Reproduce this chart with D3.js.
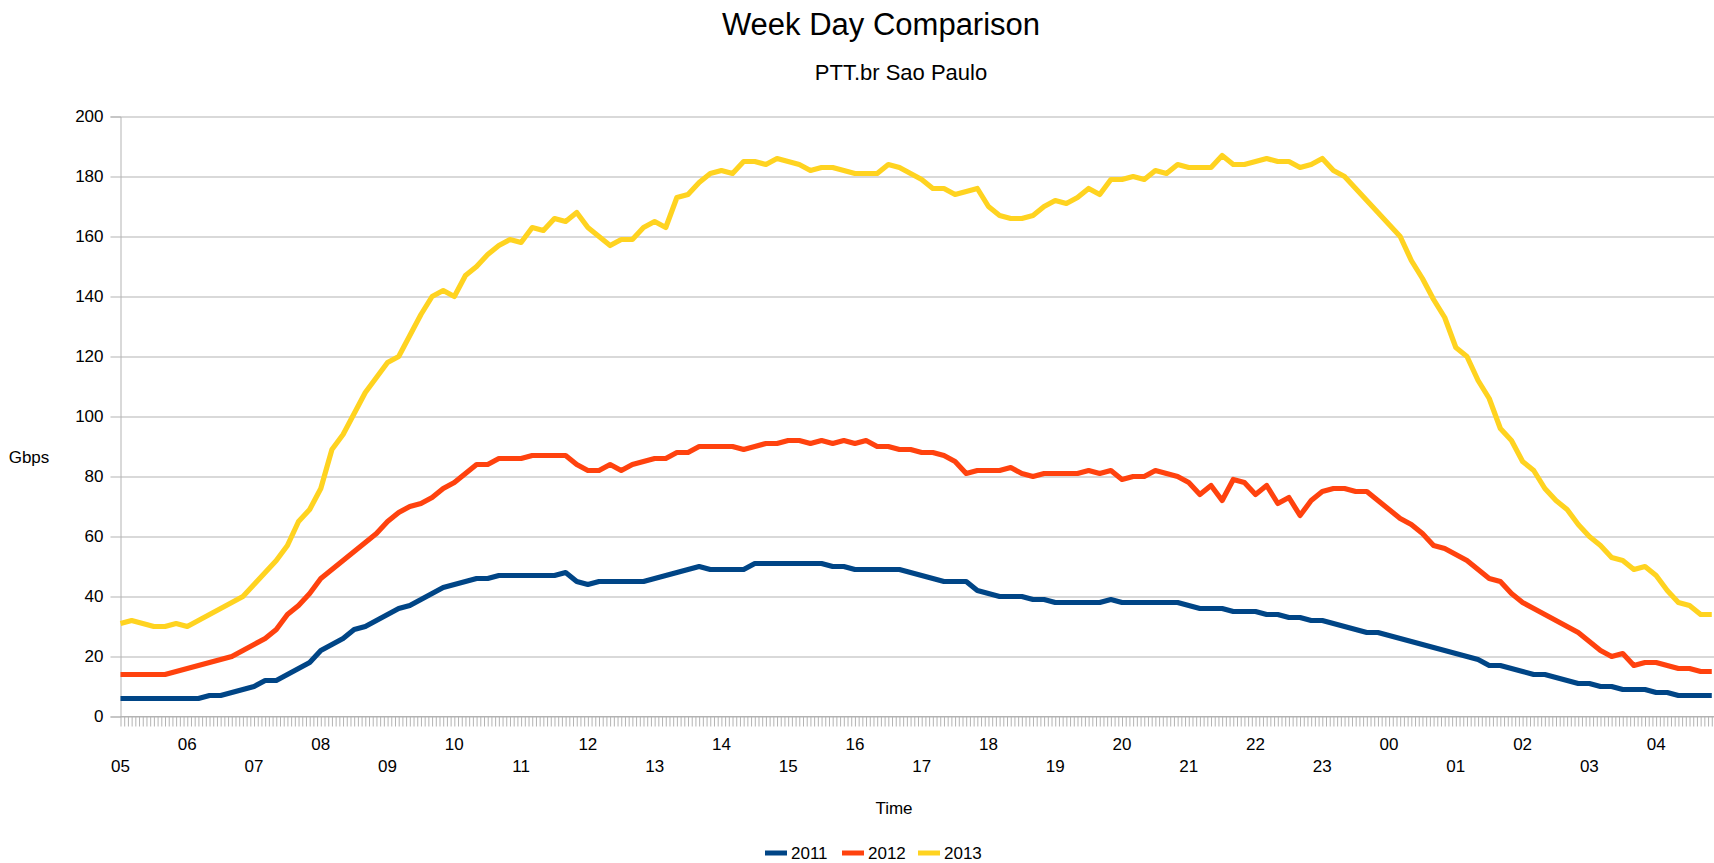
<!DOCTYPE html>
<html>
<head>
<meta charset="utf-8">
<script src="https://cdn.jsdelivr.net/npm/d3@7"></script>
<style>
  html, body { margin: 0; padding: 0; background: #fff; }
  svg { display: block; font-family: "Liberation Sans", Arial, sans-serif; }
</style>
</head>
<body>
<svg id="chart" width="1714" height="863"></svg>
<script>
const times = [];
for (let i = 0; i < 144; i++) {
  const m = (300 + i * 10) % 1440;
  times.push(String(Math.floor(m / 60)).padStart(2, "0") + ":" + String(m % 60).padStart(2, "0"));
}
const series2011 = [
  6, 6, 6, 6, 6, 6, 6, 6, 7, 7, 8, 9, 10, 12, 12, 14, 16, 18, 22, 24, 26, 29, 30, 32,
  34, 36, 37, 39, 41, 43, 44, 45, 46, 46, 47, 47, 47, 47, 47, 47, 48, 45, 44, 45, 45, 45, 45, 45,
  46, 47, 48, 49, 50, 49, 49, 49, 49, 51, 51, 51, 51, 51, 51, 51, 50, 50, 49, 49, 49, 49, 49, 48,
  47, 46, 45, 45, 45, 42, 41, 40, 40, 40, 39, 39, 38, 38, 38, 38, 38, 39, 38, 38, 38, 38, 38, 38,
  37, 36, 36, 36, 35, 35, 35, 34, 34, 33, 33, 32, 32, 31, 30, 29, 28, 28, 27, 26, 25, 24, 23, 22,
  21, 20, 19, 17, 17, 16, 15, 14, 14, 13, 12, 11, 11, 10, 10, 9, 9, 9, 8, 8, 7, 7, 7, 7
];
const series2012 = [
  14, 14, 14, 14, 14, 15, 16, 17, 18, 19, 20, 22, 24, 26, 29, 34, 37, 41, 46, 49, 52, 55, 58, 61,
  65, 68, 70, 71, 73, 76, 78, 81, 84, 84, 86, 86, 86, 87, 87, 87, 87, 84, 82, 82, 84, 82, 84, 85,
  86, 86, 88, 88, 90, 90, 90, 90, 89, 90, 91, 91, 92, 92, 91, 92, 91, 92, 91, 92, 90, 90, 89, 89,
  88, 88, 87, 85, 81, 82, 82, 82, 83, 81, 80, 81, 81, 81, 81, 82, 81, 82, 79, 80, 80, 82, 81, 80,
  78, 74, 77, 72, 79, 78, 74, 77, 71, 73, 67, 72, 75, 76, 76, 75, 75, 72, 69, 66, 64, 61, 57, 56,
  54, 52, 49, 46, 45, 41, 38, 36, 34, 32, 30, 28, 25, 22, 20, 21, 17, 18, 18, 17, 16, 16, 15, 15
];
const series2013 = [
  31, 32, 31, 30, 30, 31, 30, 32, 34, 36, 38, 40, 44, 48, 52, 57, 65, 69, 76, 89, 94, 101, 108, 113,
  118, 120, 127, 134, 140, 142, 140, 147, 150, 154, 157, 159, 158, 163, 162, 166, 165, 168, 163, 160, 157, 159, 159, 163,
  165, 163, 173, 174, 178, 181, 182, 181, 185, 185, 184, 186, 185, 184, 182, 183, 183, 182, 181, 181, 181, 184, 183, 181,
  179, 176, 176, 174, 175, 176, 170, 167, 166, 166, 167, 170, 172, 171, 173, 176, 174, 179, 179, 180, 179, 182, 181, 184,
  183, 183, 183, 187, 184, 184, 185, 186, 185, 185, 183, 184, 186, 182, 180, 176, 172, 168, 164, 160, 152, 146, 139, 133,
  123, 120, 112, 106, 96, 92, 85, 82, 76, 72, 69, 64, 60, 57, 53, 52, 49, 50, 47, 42, 38, 37, 34, 34
];
const seriesNames = ["2011", "2012", "2013"];
const seriesColors = ["#004586", "#ff420e", "#ffd320"];
const hourLabels = ["05","06","07","08","09","10","11","12","13","14","15","16",
                    "17","18","19","20","21","22","23","00","01","02","03","04"];
const yTicks = [0, 20, 40, 60, 80, 100, 120, 140, 160, 180, 200];
const titleText = "Week Day Comparison";
const subtitleText = "PTT.br Sao Paulo";
const yTitle = "Gbps";
const xTitle = "Time";

(function draw() {
  const svg = d3.select("#chart");
  const pL = 120.5, pR = 1714, pT = 116.5, pB = 716.5;
  const toMin = s => { const [h, m] = s.split(":").map(Number); return ((h * 60 + m) - 300 + 1440) % 1440; };
  const x = d3.scaleLinear().domain([0, 1432]).range([pL, pR]);
  const y = d3.scaleLinear().domain([0, 200]).range([pB, pT]);
  const gridColor = "#b3b3b3";

  // gridlines + y ticks
  const yAxis = d3.axisLeft(y).tickValues(yTicks).tickSize(10).tickPadding(7).tickFormat(d3.format("d"));
  const gy = svg.append("g").attr("transform", `translate(${pL},0)`).call(yAxis);
  gy.select(".domain").attr("stroke", gridColor);
  gy.selectAll(".tick line").attr("stroke", gridColor);
  gy.selectAll(".tick text").attr("font-size", 17).attr("fill", "#000")
    .attr("font-family", "Liberation Sans, Arial, sans-serif");
  gy.selectAll(".tick").append("line")
    .attr("x1", 0).attr("x2", pR - pL).attr("stroke", gridColor).attr("stroke-width", 1);

  // x axis: a tick at every category (200 s), hour labels staggered
  const minorTicks = d3.range(0, 1432.1, 10 / 3);
  const xAxis = d3.axisBottom(x).tickValues(minorTicks).tickSize(10).tickFormat("");
  const gx = svg.append("g").attr("transform", `translate(0,${pB})`).call(xAxis);
  gx.select(".domain").attr("stroke", gridColor).attr("d", `M${pL},0H${pR}`);
  gx.selectAll(".tick line").attr("stroke", gridColor);

  svg.append("g").selectAll("text").data(hourLabels).join("text")
    .attr("x", (d, i) => x(i * 60))
    .attr("y", (d, i) => i % 2 === 0 ? 772 : 750)
    .attr("text-anchor", "middle")
    .attr("font-size", 17)
    .text(d => d);

  // lines
  const seriesData = [series2011, series2012, series2013];
  const line = d3.line().x(d => x(d.t)).y(d => y(d.v)).curve(d3.curveLinear);
  const plot = svg.append("g");
  seriesData.forEach((vals, k) => {
    const pts = vals.map((v, i) => ({ t: toMin(times[i]), v }));
    plot.append("path").datum(pts)
      .attr("d", line)
      .attr("fill", "none")
      .attr("stroke", seriesColors[k])
      .attr("stroke-width", 5.2)
      .attr("stroke-linejoin", "round");
  });

  // titles
  svg.append("text").attr("x", 881).attr("y", 35).attr("text-anchor", "middle")
    .attr("font-size", 31).text(titleText);
  svg.append("text").attr("x", 901).attr("y", 80).attr("text-anchor", "middle")
    .attr("font-size", 22).text(subtitleText);
  svg.append("text").attr("x", 29).attr("y", 463).attr("text-anchor", "middle")
    .attr("font-size", 17).text(yTitle);
  svg.append("text").attr("x", 894).attr("y", 814).attr("text-anchor", "middle")
    .attr("font-size", 17).text(xTitle);

  // legend
  const legendX = [765, 842, 918];
  const lg = svg.append("g");
  seriesNames.forEach((name, k) => {
    lg.append("line").attr("x1", legendX[k]).attr("x2", legendX[k] + 22)
      .attr("y1", 853).attr("y2", 853)
      .attr("stroke", seriesColors[k]).attr("stroke-width", 5);
    lg.append("text").attr("x", legendX[k] + 26).attr("y", 859)
      .attr("font-size", 17).text(name);
  });
})();
</script>
</body>
</html>
